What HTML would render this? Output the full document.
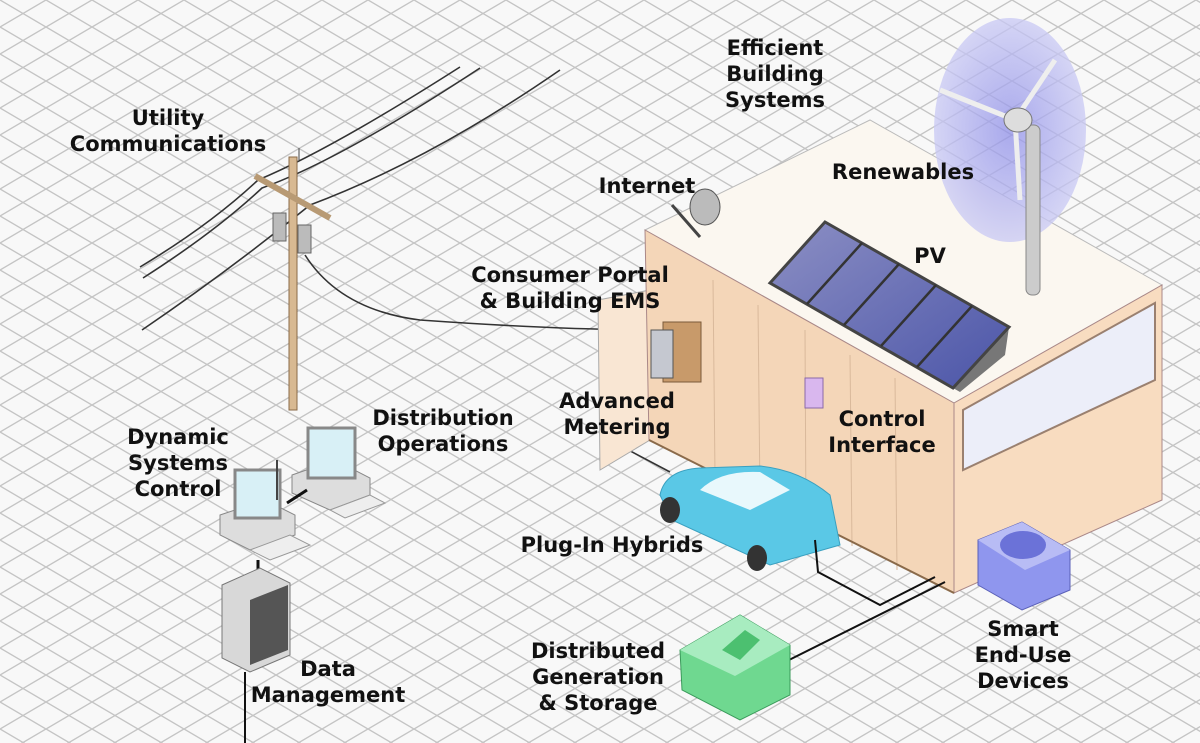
<!DOCTYPE html>
<html><head><meta charset="utf-8"><style>
html,body{margin:0;padding:0;background:#f7f7f7;}
svg{display:block}
text{font-family:"DejaVu Sans","Liberation Sans",sans-serif;font-weight:bold;font-size:21px;fill:#111;}
</style></head><body>
<svg width="1200" height="743" viewBox="0 0 1200 743" xmlns="http://www.w3.org/2000/svg">
<defs>
<pattern id="g" width="46" height="27" patternUnits="userSpaceOnUse">
<path d="M0 0 L46 27 M46 0 L0 27 M-23 13.5 L0 27 M23 -13.5 L69 13.5" stroke="#c4c4c4" stroke-width="1.4" fill="none"/>
</pattern>
<linearGradient id="pv" x1="0" y1="0" x2="1" y2="1"><stop offset="0" stop-color="#8c8fc4"/><stop offset="1" stop-color="#4b55a8"/></linearGradient>
<radialGradient id="rotor" cx="0.5" cy="0.5" r="0.5"><stop offset="0" stop-color="#8f8fe8"/><stop offset="1" stop-color="#c9c9f4"/></radialGradient>
</defs>
<rect width="1200" height="743" fill="#f8f8f8"/>
<rect width="1200" height="743" fill="url(#g)"/>

<g fill="none" stroke="#333" stroke-width="1.6">
<path d="M140 267 Q210 225 258 180 Q330 150 460 67"/>
<path d="M143 278 Q215 232 262 188 Q340 160 480 68"/>
<path d="M142 330 Q230 270 310 205 Q430 160 560 70"/>
<path d="M305 255 Q340 310 420 320 Q560 330 660 330"/>
<path d="M600 435 L670 472"/>
</g>
<rect x="289" y="157" width="8" height="253" fill="#d8b992" stroke="#8a6a48" stroke-width="1"/>
<path d="M255 176 L330 218" stroke="#b89a74" stroke-width="6"/>
<rect x="273" y="213" width="13" height="28" fill="#bbb" stroke="#666"/>
<rect x="298" y="225" width="13" height="28" fill="#bbb" stroke="#666"/>
<line x1="299" y1="148" x2="299" y2="160" stroke="#444"/>

<polygon points="598,300 650,290 650,440 600,470" fill="#f9e6d3" stroke="#aaa"/>
<polygon points="645,230 870,120 1162,285 954,403" fill="#fbf7f0" stroke="#bbb"/>
<polygon points="645,230 954,403 954,593 649,440" fill="#f4d6b8" stroke="#a88"/>
<polygon points="954,403 1162,285 1162,500 954,593" fill="#f8dcc0" stroke="#a88"/>
<polygon points="963,410 1155,303 1155,380 963,470" fill="#eceef9" stroke="#9a8070" stroke-width="2"/>
<g stroke="#d9b99b" stroke-width="1"><line x1="713" y1="280" x2="715" y2="475"/><line x1="758" y1="305" x2="760" y2="498"/><line x1="805" y1="330" x2="806" y2="522"/><line x1="850" y1="355" x2="852" y2="546"/><line x1="895" y1="378" x2="897" y2="570"/></g>
<path d="M649 440 L954 593" stroke="#8a6a4a" stroke-width="2"/>
<polygon points="953,388 1009,327 1005,355 960,392" fill="#777"/>
<polygon points="770,283 825,222 1009,327 953,388" fill="url(#pv)" stroke="#444" stroke-width="3"/>
<g stroke="#333" stroke-width="2.5"><line x1="807" y1="304" x2="862" y2="243"/><line x1="844" y1="325" x2="899" y2="264"/><line x1="881" y1="346" x2="936" y2="285"/><line x1="917" y1="367" x2="972" y2="306"/></g>
<ellipse cx="1010" cy="130" rx="76" ry="112" fill="url(#rotor)" opacity="0.75"/>
<rect x="1026" y="125" width="14" height="170" rx="6" fill="#ccc" stroke="#888"/>
<path d="M1015 120 L940 90 M1015 120 L1055 60 M1015 120 L1020 200" stroke="#eee" stroke-width="5"/>
<ellipse cx="1018" cy="120" rx="14" ry="12" fill="#ddd" stroke="#777"/>
<ellipse cx="705" cy="207" rx="15" ry="18" fill="#bbb" stroke="#555"/>
<path d="M672 205 L700 237" stroke="#444" stroke-width="3"/>
<rect x="663" y="322" width="38" height="60" fill="#c89a6a" stroke="#7a5a3a"/>
<rect x="651" y="330" width="22" height="48" fill="#c5c8d0" stroke="#555"/>
<rect x="805" y="378" width="18" height="30" fill="#d9b7ee" stroke="#8a6aa8"/>
<path d="M660 495 Q665 470 700 468 L760 466 Q800 470 830 495 L840 545 L770 565 L672 520 Z" fill="#5ac8e6" stroke="#3aa0c0"/>
<path d="M700 490 Q720 470 760 472 L790 490 L750 510 Z" fill="#e8f8fc"/>
<ellipse cx="670" cy="510" rx="10" ry="13" fill="#333"/>
<ellipse cx="757" cy="558" rx="10" ry="13" fill="#333"/>
<path d="M815 540 L818 572 L880 605 L935 577" fill="none" stroke="#111" stroke-width="2"/>
<path d="M785 662 L945 582" fill="none" stroke="#111" stroke-width="2"/>
<polygon points="680,650 740,615 790,645 790,695 740,720 682,690" fill="#6fd890" stroke="#3a9a5a"/>
<polygon points="680,650 740,615 790,645 735,676" fill="#a8ecc0"/>
<polygon points="722,650 745,630 760,640 740,660" fill="#4cc070"/>
<polygon points="978,540 1022,522 1070,550 1070,590 1022,610 978,585" fill="#8f96ee" stroke="#5a60b8"/>
<polygon points="978,540 1022,522 1070,550 1025,570" fill="#b8bcf5"/>
<ellipse cx="1023" cy="545" rx="23" ry="14" fill="#6b72d8"/>
<polygon points="220,515 265,500 295,515 295,535 250,550 220,535" fill="#ddd" stroke="#888"/>
<rect x="235" y="470" width="45" height="48" fill="#d8f0f6" stroke="#888" stroke-width="3"/>
<polygon points="250,550 290,535 310,545 270,560" fill="#eee" stroke="#999"/>
<polygon points="292,475 335,460 370,478 370,495 330,510 292,493" fill="#ddd" stroke="#888"/>
<rect x="308" y="428" width="47" height="50" fill="#d8f0f6" stroke="#888" stroke-width="3"/>
<polygon points="330,510 370,495 385,503 345,518" fill="#eee" stroke="#999"/>
<line x1="287" y1="503" x2="307" y2="490" stroke="#111" stroke-width="3"/>
<line x1="277" y1="460" x2="277" y2="500" stroke="#444" stroke-width="2"/>
<line x1="258" y1="560" x2="258" y2="585" stroke="#111" stroke-width="3"/>
<polygon points="222,585 260,568 290,583 290,655 250,672 222,658" fill="#d8d8d8" stroke="#777"/>
<polygon points="250,600 288,585 288,650 250,665" fill="#555"/>
<line x1="245" y1="672" x2="245" y2="743" stroke="#111" stroke-width="2"/>

<text x="168" y="125" text-anchor="middle">Utility</text>
<text x="168" y="151" text-anchor="middle">Communications</text>
<text x="775" y="55" text-anchor="middle">Efficient</text>
<text x="775" y="81" text-anchor="middle">Building</text>
<text x="775" y="107" text-anchor="middle">Systems</text>
<text x="903" y="179" text-anchor="middle">Renewables</text>
<text x="647" y="193" text-anchor="middle">Internet</text>
<text x="930" y="263" text-anchor="middle">PV</text>
<text x="570" y="282" text-anchor="middle">Consumer Portal</text>
<text x="570" y="308" text-anchor="middle">&amp; Building EMS</text>
<text x="617" y="408" text-anchor="middle">Advanced</text>
<text x="617" y="434" text-anchor="middle">Metering</text>
<text x="882" y="426" text-anchor="middle">Control</text>
<text x="882" y="452" text-anchor="middle">Interface</text>
<text x="443" y="425" text-anchor="middle">Distribution</text>
<text x="443" y="451" text-anchor="middle">Operations</text>
<text x="178" y="444" text-anchor="middle">Dynamic</text>
<text x="178" y="470" text-anchor="middle">Systems</text>
<text x="178" y="496" text-anchor="middle">Control</text>
<text x="612" y="552" text-anchor="middle">Plug-In Hybrids</text>
<text x="598" y="658" text-anchor="middle">Distributed</text>
<text x="598" y="684" text-anchor="middle">Generation</text>
<text x="598" y="710" text-anchor="middle">&amp; Storage</text>
<text x="328" y="676" text-anchor="middle">Data</text>
<text x="328" y="702" text-anchor="middle">Management</text>
<text x="1023" y="636" text-anchor="middle">Smart</text>
<text x="1023" y="662" text-anchor="middle">End-Use</text>
<text x="1023" y="688" text-anchor="middle">Devices</text>
</svg>
</body></html>
